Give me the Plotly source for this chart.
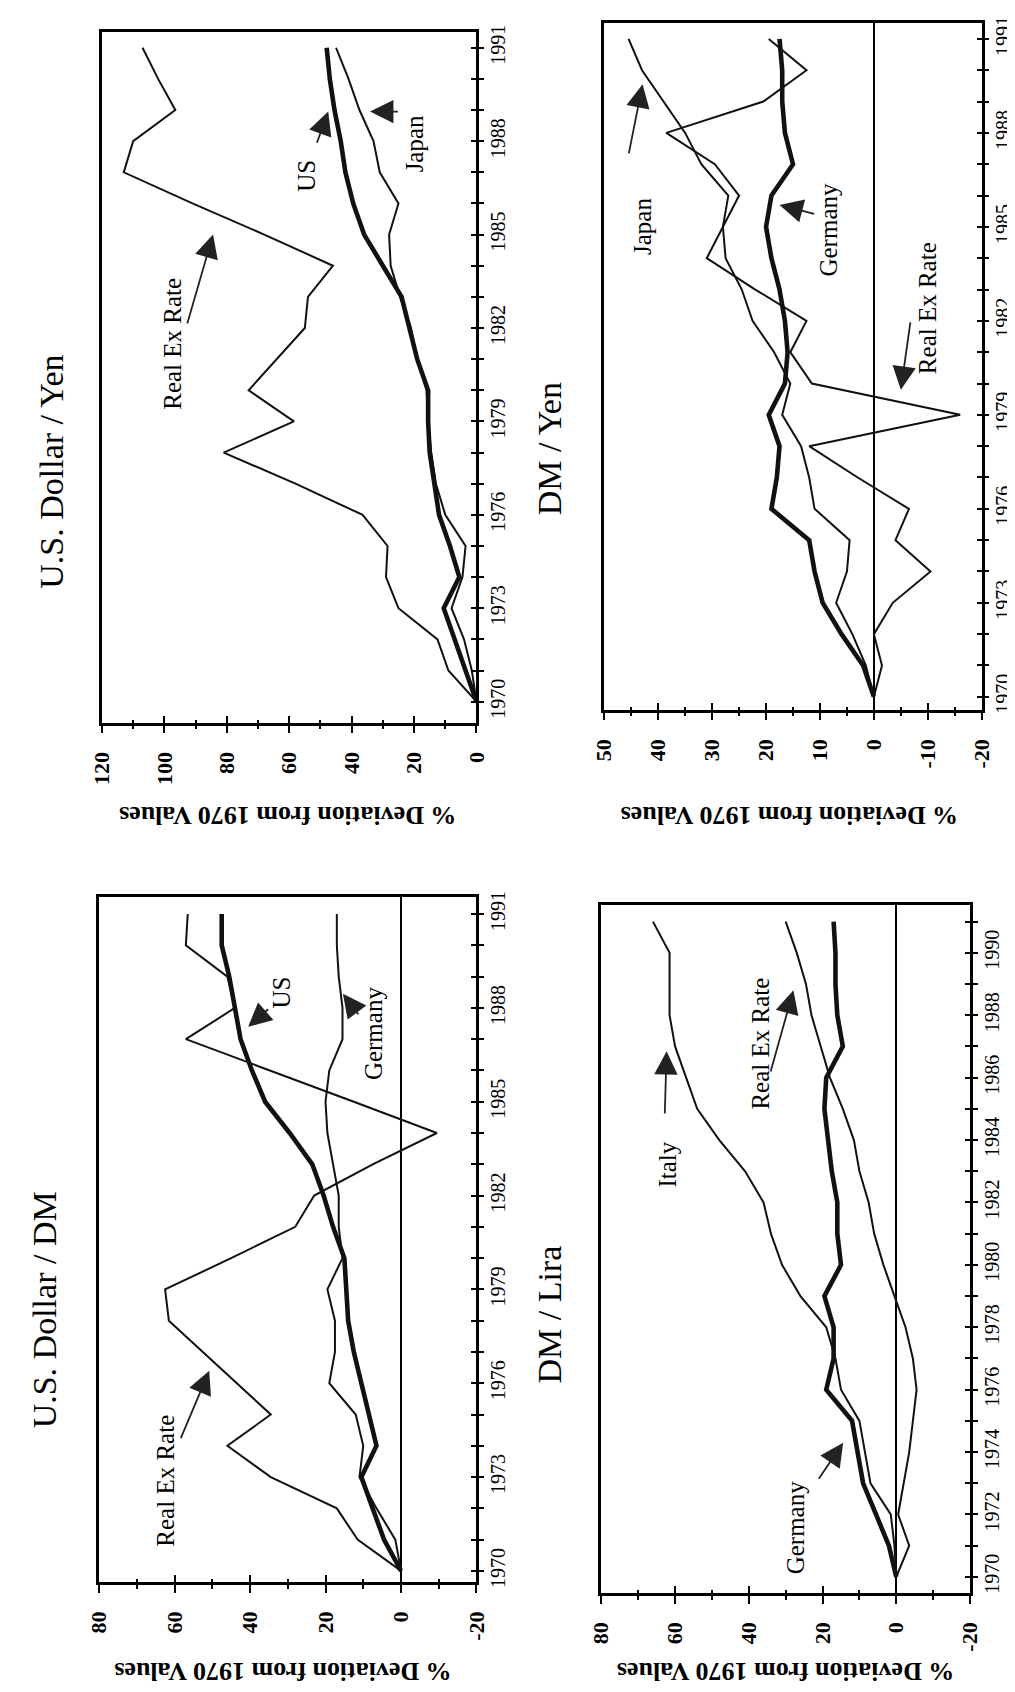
import plotly.graph_objects as go

# ---------------- data ----------------
years = list(range(1970, 1992))

# U.S. Dollar / Yen
usyen_rer = [0, 9, 12.5, 25, 29, 28.5, 36.5, 58, 81, 58.5, 73, 64, 55, 54, 46, 68, 91, 113, 110, 96.5, 102, 107]
usyen_us = [0, 3.5, 7, 10.5, 5.5, 8.5, 12, 13.5, 15, 15.5, 15.5, 19, 21.5, 24, 30, 36, 39.5, 42, 43.5, 45.5, 47, 48]
usyen_japan = [0, 1.5, 4, 8, 4.5, 3.5, 10, 13, 14.5, 15.5, 16, 19, 21, 24.5, 27.5, 28, 25, 31, 33, 37.5, 41, 45]

# DM / Yen
dmyen_germany = [0, 2, 6, 9.5, 11, 12, 19, 18, 17.5, 19.5, 16.5, 16, 16.5, 17.5, 19, 20, 19, 15, 16.5, 17, 17, 17.5]
dmyen_japan = [0, 1.5, 4, 7, 5, 4.5, 11, 12, 13.5, 17, 15.5, 18.5, 22.5, 24.5, 27.5, 28, 27, 32, 35, 39, 43, 45.5]
dmyen_rer = [0, -1.5, 0, -3.5, -10.5, -4, -6.5, 3, 12, -16, 11.5, 15.5, 12.5, 22, 31, 28, 25, 29.5, 38.5, 20.5, 12.5, 19.5]

# U.S. Dollar / DM
usdm_rer = [0, 11.5, 17, 34.5, 46, 34.5, 43.5, 52.5, 61.5, 62.5, 45, 28, 23, 7.5, -9.5, 12.5, 35, 57, 44, 46, 57, 56.5]
usdm_us = [0, 4.5, 7.5, 10.5, 6.5, 8.5, 10.5, 12.5, 14, 14.5, 15, 18, 20.5, 23.5, 29.5, 36, 39.5, 42.5, 44, 45.5, 47.5, 47.5]
usdm_germany = [0, 1.5, 6.5, 11, 10, 12, 19, 17.5, 17.5, 19.5, 15.5, 16.5, 16.5, 18, 19.5, 20, 19, 15.5, 15.5, 16.5, 17, 17]

# DM / Lira
dmlira_italy = [0, 0.5, 1.5, 7, 8.5, 10, 15, 16.5, 19, 26, 31, 34, 36, 41, 48, 54, 57, 60, 61.5, 61.5, 61.5, 66]
dmlira_germany = [0, 2, 5.5, 9, 10.5, 12, 19, 17, 17, 19.5, 15, 16, 16, 17.5, 18.5, 19.5, 19, 14.5, 16, 16.5, 16.5, 17]
dmlira_rer = [0, -3.5, -0.5, -2, -3.5, -4.5, -5.5, -4.5, -2.5, 0.5, 3.5, 6, 7.5, 10, 11.5, 14.5, 18, 20.5, 23, 24.5, 27, 30]

titles = ["U.S. Dollar / Yen", "DM / Yen", "U.S. Dollar / DM", "DM / Lira"]
axis_title = "% Deviation from 1970 Values"

# value-axis tick labels (hyphen minus as in the original)
ticks_yen = [120, 100, 80, 60, 40, 20, 0]
ticks_dmyen = [50, 40, 30, 20, 10, 0, -10, -20]
ticks_80 = [80, 60, 40, 20, 0, -20]

# ---------------- layout helpers ----------------
W, H = 1015, 1692
SERIF = "Liberation Serif"


def fx(p):
    return p / W


def fy(p):
    return 1 - p / H


THIN, THICK = 2.0, 4.6

panels = [
    dict(xd=(83, 467), yd=(17, 713), vr=[120, 0], tv=ticks_yen, vm=10, yr=[1969.33, 1991.51], ydt=3,
         series=[(usyen_rer, THIN), (usyen_japan, THIN), (usyen_us, THICK)],
         title=(31, 460), atitle=(273, 806),
         labels=[("Real Ex Rate", 97.5, 1981.5), ("US", 54.5, 1986.9), ("Japan", 20, 1987.9)],
         arrows=[(92.8, 1982.1, 84.4, 1985.0), (51.3, 1987.9, 47.5, 1988.95), (24.7, 1988.95, 34.1, 1988.95)]),
    dict(xd=(598, 985), yd=(8, 700), vr=[50, -20], tv=ticks_dmyen, vm=5, yr=[1969.59, 1991.51], ydt=3,
         series=[(dmyen_rer, THIN), (dmyen_japan, THIN), (dmyen_germany, THICK)],
         title=(542, 437), atitle=(788, 806),
         labels=[("Japan", 42.8, 1985.0), ("Germany", 8.6, 1984.9), ("Real Ex Rate", -10.0, 1982.4)],
         arrows=[(45.5, 1987.3, 42.9, 1989.55), (10.8, 1985.4, 17.5, 1985.7), (-6.8, 1982.0, -5.0, 1979.8)]),
    dict(xd=(80, 467), yd=(889, 1579), vr=[80, -20], tv=ticks_80, vm=10, yr=[1969.65, 1991.54], ydt=3,
         series=[(usdm_rer, THIN), (usdm_germany, THIN), (usdm_us, THICK)],
         title=(25, 1305), atitle=(268, 1670),
         labels=[("Real Ex Rate", 62.4, 1972.9), ("US", 31.7, 1988.5), ("Germany", 7.1, 1987.2)],
         arrows=[(58.5, 1974.2, 50.8, 1976.4), (34.8, 1988.0, 40.5, 1987.4), (11.0, 1987.75, 15.4, 1988.45)]),
    dict(xd=(595, 973), yd=(897, 1590), vr=[80, -20], tv=ticks_80, vm=10, yr=[1969.49, 1991.53], ydt=2,
         series=[(dmlira_italy, THIN), (dmlira_rer, THIN), (dmlira_germany, THICK)],
         title=(542, 1310), atitle=(784, 1670),
         labels=[("Germany", 27.1, 1971.6), ("Italy", 62.3, 1983.2), ("Real Ex Rate", 36.9, 1987.1)],
         arrows=[(21.3, 1973.1, 14.4, 1974.3), (62.8, 1984.8, 62.3, 1986.85), (34.2, 1986.15, 27.9, 1988.8)]),
]

fig = go.Figure()
layout = {}
annotations = []

for i, p in enumerate(panels, start=1):
    sfx = "" if i == 1 else str(i)
    xa, ya = "x" + sfx, "y" + sfx
    ox, oy = "x%d" % (i + 4), "y%d" % (i + 4)

    for vals, w in p["series"]:
        fig.add_trace(go.Scatter(x=vals, y=years, mode="lines",
                                 line=dict(color="#111111", width=w),
                                 xaxis=xa, yaxis=ya, showlegend=False, hoverinfo="skip"))
    # helper trace for overlay axes (inside halves of the crossing ticks)
    fig.add_trace(go.Scatter(x=[None], y=[None], xaxis=ox, yaxis=oy, showlegend=False,
                             hoverinfo="skip"))

    xd = [fx(p["xd"][0]), fx(p["xd"][1])]
    ydm = [fy(p["yd"][1]), fy(p["yd"][0])]

    layout["xaxis" + sfx] = dict(
        domain=xd, range=p["vr"], anchor=ya, side="bottom",
        showline=True, linewidth=2.5, linecolor="black", mirror=True,
        showgrid=False, zeroline=True, zerolinecolor="black", zerolinewidth=2,
        ticks="outside", ticklen=8, tickwidth=2, tickcolor="black",
        tickmode="array", tickvals=p["tv"], ticktext=[str(v) for v in p["tv"]],
        tickangle=-90, ticklabelstandoff=10,
        tickfont=dict(family=SERIF, size=22, color="black", weight="bold"),
        minor=dict(ticks="outside", ticklen=4, tickwidth=1.5, tickcolor="black",
                   tick0=0, dtick=p["vm"]),
        fixedrange=True,
    )
    layout["yaxis" + sfx] = dict(
        domain=ydm, range=p["yr"], anchor=xa, side="right",
        showline=True, linewidth=2.5, linecolor="black", mirror=True,
        showgrid=False, zeroline=False,
        ticks="outside", ticklen=5, tickwidth=2, tickcolor="black",
        tick0=1970, dtick=p["ydt"], tickangle=-90, ticklabelstandoff=-3,
        tickfont=dict(family=SERIF, size=20, color="black"),
        minor=dict(ticks="outside", ticklen=5, tickwidth=2, tickcolor="black",
                   tick0=1970, dtick=1),
        fixedrange=True,
    )
    layout["xaxis%d" % (i + 4)] = dict(
        domain=xd, range=p["vr"], overlaying=xa, anchor=oy, side="bottom",
        showline=False, showgrid=False, zeroline=False, showticklabels=False,
        ticks="inside", ticklen=7, tickwidth=2, tickcolor="black",
        tickmode="array", tickvals=p["tv"],
        minor=dict(ticks="inside", ticklen=3, tickwidth=1.5, tickcolor="black",
                   tick0=0, dtick=p["vm"]),
        fixedrange=True,
    )
    layout["yaxis%d" % (i + 4)] = dict(
        domain=ydm, range=p["yr"], overlaying=ya, anchor=ox, side="right",
        showline=False, showgrid=False, zeroline=False, showticklabels=False,
        ticks="inside", ticklen=5, tickwidth=2, tickcolor="black",
        tick0=1970, dtick=p["ydt"],
        minor=dict(ticks="inside", ticklen=5, tickwidth=2, tickcolor="black",
                   tick0=1970, dtick=1),
        fixedrange=True,
    )

    # panel title (rotated page)
    annotations.append(dict(text=titles[i - 1], xref="paper", yref="paper",
                            x=fx(p["title"][0]), y=fy(p["title"][1]),
                            xanchor="center", yanchor="middle", textangle=-90,
                            showarrow=False, font=dict(family=SERIF, size=34, color="black")))
    # value axis title (upside down)
    annotations.append(dict(text=axis_title, xref="paper", yref="paper",
                            x=fx(p["atitle"][0]), y=fy(p["atitle"][1]),
                            xanchor="center", yanchor="middle", textangle=180,
                            showarrow=False,
                            font=dict(family=SERIF, size=26, color="black", weight="bold")))
    # series labels
    for txt, vx, vy in p["labels"]:
        annotations.append(dict(text=txt, xref=xa, yref=ya, x=vx, y=vy,
                                xanchor="center", yanchor="middle", textangle=-90,
                                showarrow=False,
                                font=dict(family=SERIF, size=25, color="black")))
    # pointer arrows
    for tx, ty, hx, hy in p["arrows"]:
        annotations.append(dict(text="", xref=xa, yref=ya, x=hx, y=hy,
                                axref=xa, ayref=ya, ax=tx, ay=ty,
                                showarrow=True, arrowhead=2, arrowsize=2.6,
                                arrowwidth=1.8, arrowcolor="#222222", standoff=0))

fig.update_layout(
    width=W, height=H,
    margin=dict(l=0, r=0, t=0, b=0),
    paper_bgcolor="white", plot_bgcolor="white",
    showlegend=False,
    font=dict(family=SERIF, color="black"),
    annotations=annotations,
    **layout,
)

fig.write_html("out.html")
